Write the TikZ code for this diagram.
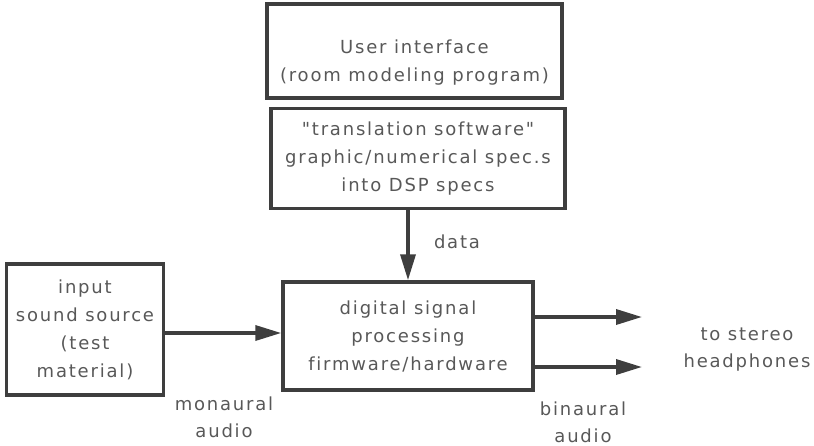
\documentclass[tikz,border=0pt]{standalone}
\usepackage{fontspec}
\setmainfont[LetterSpace=10, Ligatures={NoCommon,TeXOff}]{DejaVu Sans}
\usetikzlibrary{arrows.meta, positioning}
\definecolor{linegray}{RGB}{62,62,62}
\definecolor{textgray}{RGB}{88,88,88}
\tikzset{
  box/.style={rectangle, draw=linegray, line width=3.5pt, align=center,
    inner sep=0pt, font=\fontsize{18}{28}\selectfont, text=textgray},
  arrow/.style={-{Triangle[length=26pt, width=15pt]}, line width=3.5pt, draw=linegray},
  sigtext/.style={align=center, font=\fontsize{18}{27}\selectfont, text=textgray}
}
\begin{document}
\begin{tikzpicture}[x=1pt, y=-1pt, node distance=70pt]
  \useasboundingbox (0,0) rectangle (814,445);

  \node [box, minimum width=250pt, minimum height=108pt] (dsp) at (408,336)
    {digital signal\\processing\\firmware/hardware};
  \node [box, minimum width=294pt, minimum height=100pt, above=70pt of dsp, xshift=10pt] (spec)
    {"translation software"\\graphic/numerical spec.s\\into DSP specs};
  \node [box, minimum width=295pt, minimum height=94pt, above=7pt of spec, xshift=-3.5pt] (ui)
    {\rule{0pt}{36pt}User interface\\(room modeling program)};
  \node [box, minimum width=157pt, minimum height=131pt, left=116pt of dsp, yshift=6.5pt] (input)
    {input\\sound source\\(test\\material)};

  \coordinate (outa) at (642,317);
  \coordinate (outb) at (642,367);

  \draw [arrow] (spec.south -| dsp.north) -- (dsp.north);
  \draw [arrow] ([yshift=-3.5pt]input.east) -- ([yshift=-3.5pt]input.east -| dsp.west);
  \draw [arrow] (outa -| dsp.east) -- (outa);
  \draw [arrow] (outb -| dsp.east) -- (outb);

  \node [sigtext] (data) at (457,242) {data};
  \node [sigtext] (mono) at (224,417) {monaural\\audio};
  \node [sigtext] (bin) at (583,422) {binaural\\audio};
  \node [sigtext] (phones) at (747,350) {to stereo\\headphones};
\end{tikzpicture}
\end{document}
